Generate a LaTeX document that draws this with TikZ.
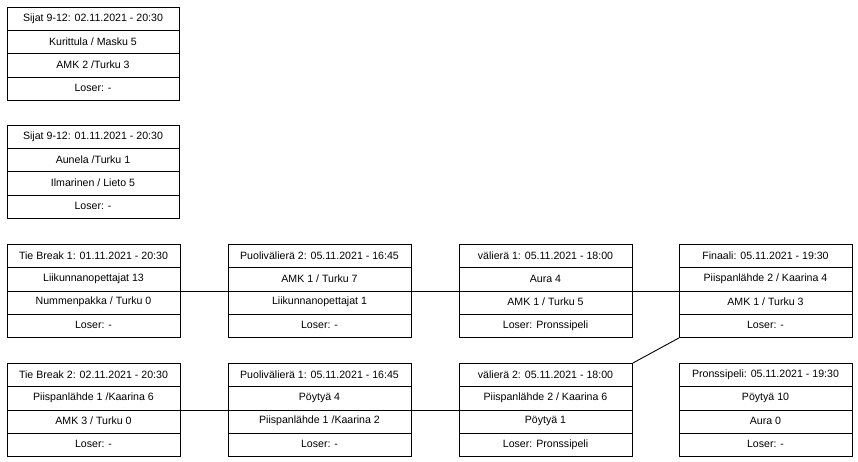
\documentclass[tikz,border=0pt]{standalone}
\usepackage{fontspec}
\setmainfont{Liberation Sans}
\usetikzlibrary{calc}
\begin{document}
\begin{tikzpicture}[x=1pt,y=-1pt]
\tikzset{
  boxframe/.style={draw=black, line width=0.9pt, rectangle, inner sep=0pt, minimum width=#1, minimum height=93pt, anchor=north west},
  rowtext/.style={font=\fontsize{10.6}{12}\selectfont, inner sep=0pt, anchor=center, text=black},
  rowline/.style={draw=black, line width=0.9pt},
  conn/.style={draw=black, line width=0.9pt}
}
\useasboundingbox (0,0) rectangle (858,462);
\newcommand\matchbox[8]{%
  \node[boxframe=#4pt] (#1) at (#2,#3) {};
  \node[rowtext] (#1-a) at ({#2+#4/2},{#3+11.625}) {#5};
  \node[rowtext] (#1-b) at ({#2+#4/2},{#3+34.875}) {#6};
  \node[rowtext] (#1-c) at ({#2+#4/2},{#3+58.125}) {#7};
  \node[rowtext] (#1-d) at ({#2+#4/2},{#3+81.375}) {#8};
  \draw[rowline] ($(#1.north west)!0.25!(#1.south west)$) -- ($(#1.north east)!0.25!(#1.south east)$);
  \draw[rowline] ($(#1.north west)!0.5!(#1.south west)$) -- ($(#1.north east)!0.5!(#1.south east)$);
  \draw[rowline] ($(#1.north west)!0.75!(#1.south west)$) -- ($(#1.north east)!0.75!(#1.south east)$);
}
\matchbox{sa}{7}{7}{172}{Sijat 9-12: 02.11.2021 - 20:30}{Kurittula / Masku 5}{AMK 2 /Turku 3}{Loser: -}
\matchbox{sb}{7}{125}{172}{Sijat 9-12: 01.11.2021 - 20:30}{Aunela /Turku 1}{Ilmarinen / Lieto 5}{Loser: -}
\matchbox{tba}{7}{244}{173}{Tie Break 1: 01.11.2021 - 20:30}{Liikunnanopettajat 13}{Nummenpakka / Turku 0}{Loser: -}
\matchbox{pvb}{228}{244}{183}{Puolivälierä 2: 05.11.2021 - 16:45}{AMK 1 / Turku 7}{Liikunnanopettajat 1}{Loser: -}
\matchbox{va}{459}{244}{173}{välierä 1: 05.11.2021 - 18:00}{Aura 4}{AMK 1 / Turku 5}{Loser: Pronssipeli}
\matchbox{fin}{679}{244}{173}{Finaali: 05.11.2021 - 19:30}{Piispanlähde 2 / Kaarina 4}{AMK 1 / Turku 3}{Loser: -}
\matchbox{tbb}{7}{363}{173}{Tie Break 2: 02.11.2021 - 20:30}{Piispanlähde 1 /Kaarina 6}{AMK 3 / Turku 0}{Loser: -}
\matchbox{pva}{228}{363}{183}{Puolivälierä 1: 05.11.2021 - 16:45}{Pöytyä 4}{Piispanlähde 1 /Kaarina 2}{Loser: -}
\matchbox{vb}{459}{363}{173}{välierä 2: 05.11.2021 - 18:00}{Piispanlähde 2 / Kaarina 6}{Pöytyä 1}{Loser: Pronssipeli}
\matchbox{pr}{679}{363}{173}{Pronssipeli: 05.11.2021 - 19:30}{Pöytyä 10}{Aura 0}{Loser: -}
\draw[conn] (tba.east) -- (pvb.west);
\draw[conn] (pvb.east) -- (va.west);
\draw[conn] (va.east) -- (fin.west);
\draw[conn] (tbb.east) -- (pva.west);
\draw[conn] (pva.east) -- (vb.west);
\draw[conn] (vb.north east) -- (fin.south west);
\end{tikzpicture}
\end{document}
